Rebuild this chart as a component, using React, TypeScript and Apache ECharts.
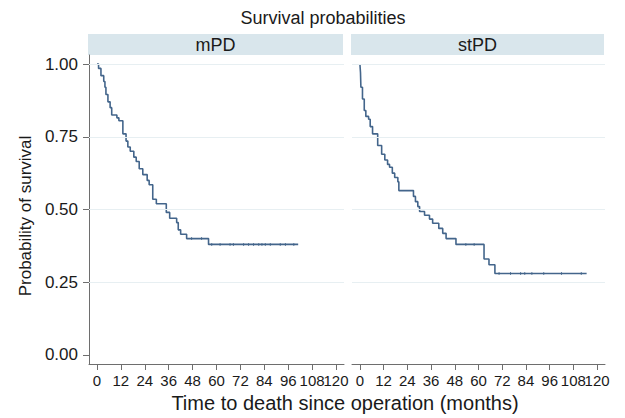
import React, { useEffect, useRef } from "react";
import * as echarts from "echarts";

// ---- data ----
const panelNames = ["mPD", "stPD"];

const mpdTime = [0, 0.8, 2, 3.4, 4, 4.5, 5.5, 6.6, 7.4, 10, 11, 13, 14.6, 15.5, 16.7, 18.5, 19.7, 21.2, 23, 25.2, 26.2, 28, 29.8, 34.8, 36.5, 40, 40.8, 42, 45, 56, 101];
const mpdSurv = [1, 0.985, 0.96, 0.94, 0.92, 0.895, 0.87, 0.85, 0.825, 0.815, 0.805, 0.76, 0.735, 0.715, 0.7, 0.68, 0.665, 0.64, 0.62, 0.6, 0.585, 0.535, 0.52, 0.49, 0.47, 0.455, 0.43, 0.415, 0.4, 0.38, 0.38];
const mpdCensorTime = [47.5, 52.5, 57.6, 61.8, 66.8, 68.5, 73.6, 76.1, 78.6, 81.2, 82.8, 84.5, 87, 92, 94.6, 98.8];
const mpdCensorSurv = [0.4, 0.4, 0.38, 0.38, 0.38, 0.38, 0.38, 0.38, 0.38, 0.38, 0.38, 0.38, 0.38, 0.38, 0.38, 0.38];

const stpdTime = [0, 0.3, 0.5, 1.3, 2.2, 3, 4.4, 5.2, 6.4, 9, 11, 12.6, 14, 15, 16.4, 17.6, 19.2, 19.7, 27.1, 28.1, 29.3, 30.2, 32.7, 35.2, 36.8, 39.9, 41.9, 43.6, 48.6, 62.8, 65.3, 68.3, 114.7];
const stpdSurv = [1, 0.97, 0.92, 0.88, 0.84, 0.82, 0.81, 0.785, 0.76, 0.72, 0.69, 0.67, 0.655, 0.645, 0.625, 0.61, 0.595, 0.565, 0.545, 0.527, 0.51, 0.493, 0.48, 0.467, 0.453, 0.435, 0.418, 0.4, 0.38, 0.33, 0.31, 0.28, 0.28];
const stpdCensorTime = [53.6, 57.8, 70.4, 76.2, 81.3, 83.4, 87, 93, 102, 112];
const stpdCensorSurv = [0.38, 0.38, 0.28, 0.28, 0.28, 0.28, 0.28, 0.28, 0.28, 0.28];

const xTicks = [0, 12, 24, 36, 48, 60, 72, 84, 96, 108, 120];
const xLabelsMain = [0, 12, 24, 36, 48, 60, 72, 84, 96, 108];
const xLabelsLast = [120];
const yTicks = [0, 0.25, 0.5, 0.75, 1];
const gridLineValues = [0.25, 0.5, 0.75, 1];

const titleText = "Survival probabilities";
const xTitle = "Time to death since operation (months)";
const yTitle = "Probability of survival";

// ---- styling ----
const FONT = "Liberation Sans, Arial, Helvetica, sans-serif";
const LINE = "#43658b";
const AXIS = "#6e6e6e";
const STRIP = "#d9e6ec";
const GRIDC = "#e7eff2";

const grids = [
  { left: 89, top: 55, width: 255, height: 309 },
  { left: 352, top: 55, width: 253, height: 309 },
];

const zip = (a: number[], b: number[]) => a.map((v, i) => [v, b[i]]);

export default function App() {
  const ref = useRef<HTMLDivElement>(null);
  useEffect(() => {
    if (!ref.current) return;
    const chart = echarts.init(ref.current, null, { renderer: "svg" });
    const curves = [zip(mpdTime, mpdSurv), zip(stpdTime, stpdSurv)];
    const censors = [zip(mpdCensorTime, mpdCensorSurv), zip(stpdCensorTime, stpdCensorSurv)];

    const labelStyle = {
      fontSize: 15,
      fontFamily: FONT,
      color: "#1a1a1a",
      margin: 9,
      hideOverlap: false,
      showMinLabel: true,
      showMaxLabel: true,
    };

    const xAxes: any[] = [];
    grids.forEach((_, i) => {
      xAxes.push({
        type: "value",
        gridIndex: i,
        min: -4,
        max: 124,
        axisLine: { show: true, onZero: false, lineStyle: { color: AXIS, width: 1 } },
        axisTick: { show: true, length: 6, customValues: xTicks, lineStyle: { color: AXIS } },
        axisLabel: { ...labelStyle, customValues: xLabelsMain },
        splitLine: { show: false },
      });
    });
    grids.forEach((_, i) => {
      xAxes.push({
        type: "value",
        gridIndex: i,
        position: "bottom",
        min: -4,
        max: 124,
        axisLine: { show: false, onZero: false },
        axisTick: { show: false },
        axisLabel: { ...labelStyle, customValues: xLabelsLast },
        splitLine: { show: false },
      });
    });

    const yAxes = grids.map((_, i) => ({
      type: "value",
      gridIndex: i,
      min: -0.031,
      max: 1.031,
      axisLine: { show: i === 0, onZero: false, lineStyle: { color: AXIS, width: 1 } },
      axisTick: { show: i === 0, length: 6, customValues: yTicks, lineStyle: { color: AXIS } },
      axisLabel: {
        show: i === 0,
        customValues: yTicks,
        formatter: (v: number) => v.toFixed(2),
        fontSize: 17,
        fontFamily: FONT,
        color: "#1a1a1a",
        margin: 11,
        showMinLabel: true,
        showMaxLabel: true,
      },
      splitLine: { show: false },
    }));

    const series: any[] = [];
    grids.forEach((_, i) => {
      series.push({
        type: "line",
        xAxisIndex: i,
        yAxisIndex: i,
        data: [[0, 1]],
        symbol: "none",
        lineStyle: { width: 0, opacity: 0 },
        silent: true,
        z: 1,
        markLine: {
          silent: true,
          symbol: "none",
          label: { show: false },
          lineStyle: { color: GRIDC, type: "solid", width: 1 },
          data: gridLineValues.map((v) => ({ yAxis: v })),
        },
      });
      series.push({
        type: "line",
        xAxisIndex: i,
        yAxisIndex: i,
        step: "end",
        data: curves[i],
        symbol: "none",
        lineStyle: { color: LINE, width: 1.6 },
        z: 3,
      });
      series.push({
        type: "scatter",
        xAxisIndex: i,
        yAxisIndex: i,
        data: censors[i],
        symbol: "rect",
        symbolSize: [1, 3],
        itemStyle: { color: LINE },
        z: 4,
      });
    });

    const graphic: any[] = [];
    grids.forEach((g, i) => {
      graphic.push({
        type: "rect",
        shape: { x: g.left - 1, y: 34, width: g.width, height: 21 },
        style: { fill: STRIP },
        silent: true,
      });
      graphic.push({
        type: "text",
        x: g.left - 1 + g.width / 2,
        y: 45,
        style: {
          text: panelNames[i],
          fontSize: 18,
          fontFamily: FONT,
          fill: "#1a1a1a",
          textAlign: "center",
          textVerticalAlign: "middle",
        },
      });
    });
    graphic.push({
      type: "text",
      x: 323,
      y: 18,
      style: {
        text: titleText,
        fontSize: 18,
        fontFamily: FONT,
        fill: "#1a1a1a",
        textAlign: "center",
        textVerticalAlign: "middle",
      },
    });
    graphic.push({
      type: "text",
      x: 345,
      y: 403,
      style: {
        text: xTitle,
        fontSize: 20,
        fontFamily: FONT,
        fill: "#1a1a1a",
        textAlign: "center",
        textVerticalAlign: "middle",
      },
    });
    graphic.push({
      type: "text",
      x: 25,
      y: 216,
      rotation: Math.PI / 2,
      style: {
        text: yTitle,
        fontSize: 17,
        fontFamily: FONT,
        fill: "#1a1a1a",
        textAlign: "center",
        textVerticalAlign: "middle",
      },
    });

    chart.setOption({
      animation: false,
      backgroundColor: "#ffffff",
      grid: grids.map((g) => ({ ...g, containLabel: false })),
      xAxis: xAxes,
      yAxis: yAxes,
      series,
      graphic,
    });
    return () => chart.dispose();
  }, []);
  return (
    <div
      ref={ref}
      style={{ position: "fixed", left: 0, top: 0, width: 625, height: 418, background: "#fff" }}
    />
  );
}
